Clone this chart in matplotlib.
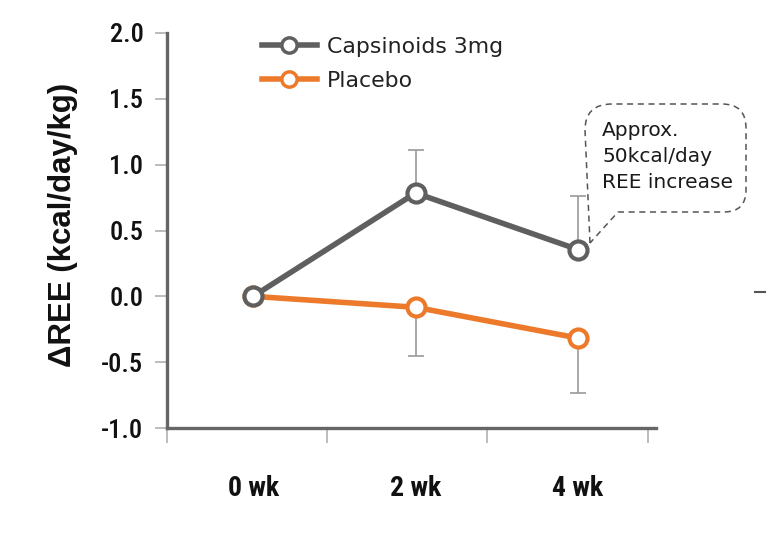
import matplotlib
matplotlib.use("Agg")
import matplotlib.pyplot as plt
from matplotlib.path import Path
from matplotlib.patches import PathPatch
from matplotlib.lines import Line2D
from matplotlib import font_manager as fm

# ---- data ----
weeks = ["0 wk", "2 wk", "4 wk"]
caps_mean = [0.0, 0.785, 0.355]
caps_err_up = [0.0, 0.325, 0.41]
plac_mean = [0.0, -0.083, -0.317]
plac_err_dn = [0.0, 0.37, 0.42]
legend_labels = ["Capsinoids 3mg", "Placebo"]
yticks = [-1.0, -0.5, 0.0, 0.5, 1.0, 1.5, 2.0]
annotation = "Approx.\n50kcal/day\nREE increase"

GRAY = "#5f5f5f"
ORANGE = "#ec7a2a"
ERR = "#9a9a9a"

names = {f.name for f in fm.fontManager.ttflist}
cond = None
for cand in ["DejaVu Sans Condensed", "Liberation Sans Narrow", "Roboto Condensed",
             "Open Sans Condensed", "Noto Sans Condensed"]:
    if cand in names:
        cond = cand
        break
cond_stretch = "condensed"
if cond is None:
    cond = "DejaVu Sans"

W, H = 775, 539
fig = plt.figure(figsize=(W / 100, H / 100), dpi=100)
ax = fig.add_axes([167 / W, 1 - 428 / H, (656 - 167) / W, (428 - 33) / H])

x = list(range(len(weeks)))

ax.errorbar(x, caps_mean, yerr=[[0] * 3, caps_err_up], fmt="none", ecolor=ERR,
            elinewidth=1.2, capsize=5.5, capthick=1.2, zorder=2)
ax.errorbar(x, plac_mean, yerr=[plac_err_dn, [0] * 3], fmt="none", ecolor=ERR,
            elinewidth=1.2, capsize=5.5, capthick=1.2, zorder=2)

ax.plot(x, caps_mean, color=GRAY, lw=4, marker="o", ms=13, mfc="white",
        mec=GRAY, mew=3, zorder=4, clip_on=False, label=legend_labels[0])
ax.plot(x, plac_mean, color=ORANGE, lw=4, marker="o", ms=13, mfc="white",
        mec=ORANGE, mew=3, zorder=3, clip_on=False, label=legend_labels[1])

ax.set_xlim(-0.53, 2.48)
ax.set_ylim(-1.0, 2.0)

for s in ["top", "right"]:
    ax.spines[s].set_visible(False)
for s in ["left", "bottom"]:
    ax.spines[s].set_color("#666666")
    ax.spines[s].set_linewidth(2.4)

ax.set_yticks(yticks)
ax.set_yticklabels([f"{v:.1f}" for v in yticks])
ax.tick_params(axis="y", direction="out", length=9, width=1.2, color="#b0b0b0",
               pad=8, labelsize=19, labelcolor="#111111")
for t in ax.get_yticklabels():
    t.set_family(cond)
    t.set_fontstretch(cond_stretch)
    t.set_fontweight("medium")

ax.set_xticks(x)
ax.set_xticklabels(weeks)
ax.tick_params(axis="x", length=0, pad=34, labelsize=20, labelcolor="#111111")
for t in ax.get_xticklabels():
    t.set_family(cond)
    t.set_fontstretch(cond_stretch)
    t.set_fontweight("bold")
ax.set_xticks([-0.53, 0.455, 1.44, 2.43], minor=True)
ax.tick_params(axis="x", which="minor", direction="out", length=11, width=1.2,
               color="#b0b0b0")

ax.set_ylabel("ΔREE (kcal/day/kg)", fontsize=22.5, fontweight="bold",
              family=["Liberation Sans", "DejaVu Sans"], color="#111111")
ax.yaxis.set_label_coords(-0.183, 0.514)

# legend
handles = [Line2D([], [], color=GRAY, lw=4, marker="o", ms=11, mfc="white", mec=GRAY, mew=2.5),
           Line2D([], [], color=ORANGE, lw=4, marker="o", ms=11, mfc="white", mec=ORANGE, mew=2.5)]
leg = fig.legend(handles, legend_labels, loc="upper left",
                 bbox_to_anchor=(262 / W, 1 - 37 / H), frameon=False,
                 borderpad=0, borderaxespad=0, handlelength=2.5, handletextpad=0.45,
                 labelspacing=0.62, prop={"family": "DejaVu Sans", "size": 15.8})
for t in leg.get_texts():
    t.set_color("#222222")

# speech bubble
def P(px, py):
    return (px / W, 1 - py / H)

verts = [P(590, 243), P(585, 130), P(585, 104), P(612, 104), P(722, 104), P(746, 104),
         P(746, 128), P(746, 190), P(746, 212), P(724, 212), P(618, 212), P(590, 243)]
codes = [Path.MOVETO, Path.LINETO, Path.CURVE3, Path.CURVE3, Path.LINETO, Path.CURVE3,
         Path.CURVE3, Path.LINETO, Path.CURVE3, Path.CURVE3, Path.LINETO, Path.LINETO]
bubble = PathPatch(Path(verts, codes), transform=fig.transFigure, facecolor="none",
                   edgecolor="#555555", lw=1.1, linestyle=(0, (4, 3)))
fig.add_artist(bubble)
fig.text(602 / W, 1 - 121 / H, annotation, fontsize=14.5, family="DejaVu Sans",
         color="#1a1a1a", va="top", ha="left", linespacing=1.45)

# small stray mark at right edge
fig.add_artist(Line2D([755 / W, 765 / W], [1 - 292 / H, 1 - 292 / H],
                      transform=fig.transFigure, color="#555555", lw=1.5))

fig.savefig("out.png", dpi=100)
